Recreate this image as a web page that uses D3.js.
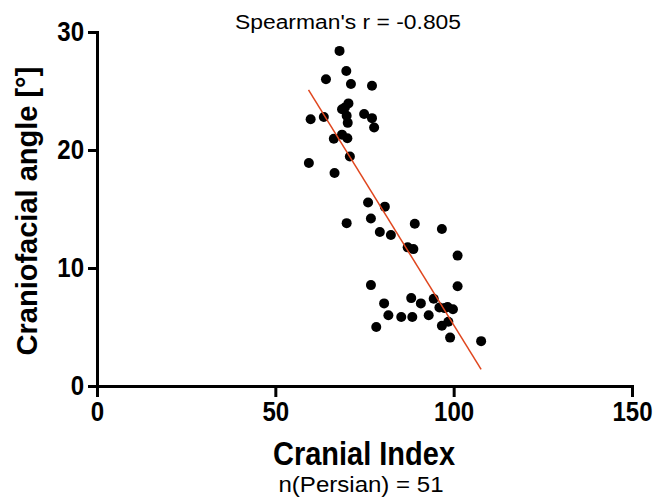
<!DOCTYPE html>
<html>
<head>
<meta charset="utf-8">
<script src="https://cdn.jsdelivr.net/npm/d3@7"></script>
<style>
  body { margin: 0; background: #fff; }
  svg { display: block; font-family: "Liberation Sans", Arial, sans-serif; }
</style>
</head>
<body>
<svg id="chart"></svg>
<script>
/* Data */
const cranialIndex = [
  68.0, 69.9, 64.2, 71.2, 77.1, 70.5, 68.7, 70.0, 70.3, 74.9, 77.1, 77.7, 59.9,
  63.6, 66.4, 68.7, 70.2, 70.9, 59.4, 66.6, 76.0, 80.7, 70.0, 76.8, 79.3, 82.4,
  89.1, 96.7, 87.1, 88.7, 101.1, 76.8, 101.1, 80.5, 88.1, 90.8, 94.4, 96.0, 98.3,
  99.8, 81.7, 85.3, 88.4, 93.0, 96.7, 98.5, 78.3, 99.0, 107.7, 69.5, 97.5
];
const craniofacialAngle = [
  28.4, 26.7, 26.0, 25.6, 25.45, 23.95, 23.45, 22.9, 22.3, 23.05, 22.7, 21.9, 22.6,
  22.8, 20.95, 21.3, 21.0, 19.45, 18.9, 18.05, 15.55, 15.2, 13.8, 14.2, 13.05, 12.8,
  13.75, 13.3, 11.75, 11.6, 11.05, 8.55, 8.45, 7.0, 7.45, 7.0, 7.4, 6.65, 6.7,
  6.5, 6.0, 5.85, 5.85, 6.0, 5.1, 5.45, 5.0, 4.1, 3.8, 23.6, 6.6
];
/* fitted line end points */
const fitX = [59.3, 107.7];
const fitY = [25.1, 1.4];
const xTicks = [0, 50, 100, 150];
const yTicks = [0, 10, 20, 30];

const width = 671, height = 502;
const margin = { top: 32, right: 39, bottom: 116, left: 97 };

const svg = d3.select("#chart")
    .attr("width", width)
    .attr("height", height);

/* Scales */
const xScale = d3.scaleLinear()
    .domain([0, 150])
    .range([margin.left, width - margin.right]);

const yScale = d3.scaleLinear()
    .domain([0, 30])
    .range([height - margin.bottom, margin.top]);

/* Axes */
const xAxis = svg.append("g")
    .attr("transform", `translate(0, ${height - margin.bottom})`)
    .call(d3.axisBottom(xScale).tickValues(xTicks).tickSize(11).tickPadding(4));

const yAxis = svg.append("g")
    .attr("transform", `translate(${margin.left}, 0)`)
    .call(d3.axisLeft(yScale).tickValues(yTicks).tickSize(9).tickPadding(6));

[xAxis, yAxis].forEach(g => {
  g.select(".domain").attr("stroke", "#000").attr("stroke-width", 3);
  g.selectAll(".tick line").attr("stroke", "#000").attr("stroke-width", 3);
  g.selectAll(".tick text")
      .attr("fill", "#000")
      .attr("transform", "scale(0.86, 1)")
      .style("font-family", "'Liberation Sans', Arial, sans-serif")
      .style("font-weight", "bold")
      .style("font-size", "28px");
});

/* Points */
svg.append("g")
  .selectAll("circle")
  .data(cranialIndex)
  .join("circle")
    .attr("cx", d => xScale(d))
    .attr("cy", (d, i) => yScale(craniofacialAngle[i]))
    .attr("r", 5)
    .attr("fill", "#000");

/* Fit line */
svg.append("line")
    .attr("x1", xScale(fitX[0]))
    .attr("y1", yScale(fitY[0]))
    .attr("x2", xScale(fitX[1]))
    .attr("y2", yScale(fitY[1]))
    .attr("stroke", "#e0461e")
    .attr("stroke-width", 1.5);

/* Texts */
svg.append("text")
    .attr("x", 348)
    .attr("y", 29)
    .attr("text-anchor", "middle")
    .attr("textLength", 226)
    .attr("lengthAdjust", "spacingAndGlyphs")
    .style("font-size", "20px")
    .text("Spearman's r = -0.805");

svg.append("text")
    .attr("x", 364)
    .attr("y", 465)
    .attr("text-anchor", "middle")
    .attr("textLength", 182)
    .attr("lengthAdjust", "spacingAndGlyphs")
    .style("font-size", "33px")
    .style("font-weight", "bold")
    .text("Cranial Index");

svg.append("text")
    .attr("x", 361)
    .attr("y", 492)
    .attr("text-anchor", "middle")
    .attr("textLength", 165)
    .attr("lengthAdjust", "spacingAndGlyphs")
    .style("font-size", "22px")
    .text("n(Persian) = 51");

svg.append("text")
    .attr("transform", `translate(37, ${(yScale(0) + yScale(30)) / 2 + 2}) rotate(-90)`)
    .attr("text-anchor", "middle")
    .style("font-size", "29px")
    .style("font-weight", "bold")
    .text("Craniofacial angle [°]");
</script>
</body>
</html>
